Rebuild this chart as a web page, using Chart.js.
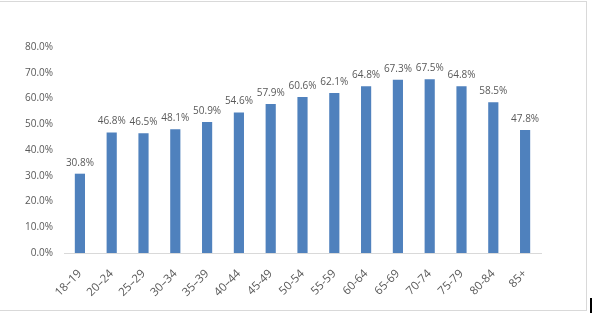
<!DOCTYPE html>
<html>
<head>
<meta charset="utf-8">
<script src="https://cdn.jsdelivr.net/npm/chart.js@4/dist/chart.umd.min.js"></script>
<style>
  html, body { margin: 0; padding: 0; background: #fff; }
  #wrap { position: relative; width: 594px; height: 324px; overflow: hidden; }
  #frame {
    position: absolute; left: -2px; top: 1px; width: 589px; height: 310px;
    border: 1px solid #d9d9d9; box-sizing: border-box; pointer-events: none;
  }
  #tick { position: absolute; left: 590px; top: 298px; width: 2px; height: 15px; background: #000; }
  canvas { position: absolute; left: 0; top: 0; }
</style>
</head>
<body>
<div id="wrap">
  <canvas id="ageChart" width="594" height="324"></canvas>
  <div id="frame"></div>
  <div id="tick"></div>
</div>
<script>
/**************************************************************
 * Data
 **************************************************************/
const ageGroups = ["18–19", "20–24", "25–29", "30–34", "35–39", "40–44", "45-49",
  "50-54", "55-59", "60-64", "65-69", "70-74", "75-79", "80-84", "85+"];
const shares = [30.8, 46.8, 46.5, 48.1, 50.9, 54.6, 57.9, 60.6, 62.1, 64.8, 67.3, 67.5, 64.8, 58.5, 47.8];
const yTicks = [0, 10, 20, 30, 40, 50, 60, 70, 80];

const TEXT = "#595959";
const FONT = { family: "'Open Sans', sans-serif", size: 10 };
const X_FONT = { family: "'Open Sans', sans-serif", size: 11.5 };

// Value labels above each bar
const barLabels = {
  id: "barLabels",
  afterDatasetsDraw(chart) {
    const ctx = chart.ctx;
    ctx.save();
    ctx.font = `${FONT.size}px ${FONT.family}`;
    ctx.fillStyle = TEXT;
    ctx.textAlign = "center";
    ctx.textBaseline = "bottom";
    chart.getDatasetMeta(0).data.forEach((bar, i) => {
      ctx.fillText(shares[i].toFixed(1) + "%", bar.x, bar.y - 6);
    });
    ctx.restore();
  }
};

/**************************************************************
 * Chart
 **************************************************************/
new Chart(document.getElementById("ageChart"), {
  type: "bar",
  data: {
    labels: ageGroups,
    datasets: [{
      data: shares,
      backgroundColor: "#4f81bd",
      categoryPercentage: 1,
      barPercentage: 0.32
    }]
  },
  options: {
    responsive: false,
    animation: false,
    layout: { padding: { top: 47, right: 53, left: 0, bottom: 0 } },
    plugins: { legend: { display: false }, tooltip: { enabled: false } },
    scales: {
      x: {
        grid: { display: false, drawTicks: false },
        border: { color: "#d9d9d9" },
        ticks: { color: TEXT, font: X_FONT, maxRotation: 45, minRotation: 45, padding: 14, autoSkip: false },
        afterFit(axis) { axis.height = 71; }
      },
      y: {
        min: 0, max: 80,
        afterBuildTicks(axis) { axis.ticks = yTicks.map(v => ({ value: v })); },
        grid: { display: false, drawTicks: false },
        border: { display: false },
        ticks: { color: TEXT, font: FONT, padding: 11, callback: v => v.toFixed(1) + "%" },
        afterFit(axis) { axis.width = 64; }
      }
    }
  },
  plugins: [barLabels]
});
</script>
</body>
</html>
